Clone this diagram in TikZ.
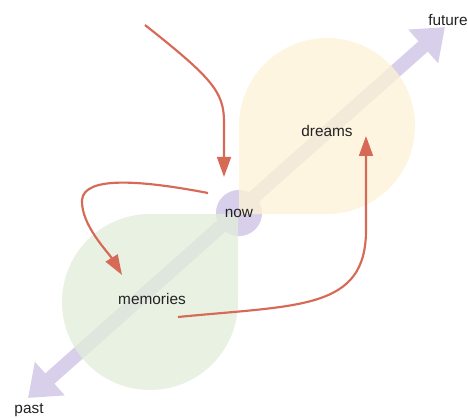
\documentclass[tikz,border=0pt]{standalone}
\usepackage{fontspec}
\setmainfont{Liberation Sans}
\usepackage{xcolor}
\usetikzlibrary{arrows.meta,positioning}

\definecolor{timeline}{RGB}{216,208,234}
\definecolor{dreamfill}{RGB}{253,242,214}
\definecolor{memfill}{RGB}{225,237,218}
\definecolor{flow}{RGB}{214,106,86}
\definecolor{ink}{RGB}{34,34,34}

\begin{document}
\begin{tikzpicture}[
  x=0.65pt, y=-0.65pt,
  label/.style={text=ink, inner sep=1pt},
  nowdot/.style={circle, fill=timeline, minimum size=30pt, inner sep=0pt, text=ink},
  drop/.style={fill opacity=0.78},
  axis/.style={draw=timeline, line width=9pt, {Triangle[length=19pt, width=28pt]}-{Triangle[length=19pt, width=28pt]}},
  flowarrow/.style={draw=flow, line width=1.4pt, -{Triangle[length=13pt, width=9pt]}}
]
\useasboundingbox (0,0) rectangle (468,418);

% time axis
\coordinate (pasttip) at (28,398);
\coordinate (futuretip) at (445,27);
\draw[axis] (pasttip) -- (futuretip);

\node[nowdot] (now) at (239,213) {};

% teardrops
\fill[dreamfill, drop] (239,126) -- (239,214) -- (327,214)
  arc[start angle=90, end angle=-180, radius=88] -- cycle;
\fill[memfill, drop] (238,302) -- (238,214) -- (150,214)
  arc[start angle=-90, end angle=-360, radius=88] -- cycle;

\node[label] (nowtext) at (now) {now};
\node[label] (dreams) at (327,131) {dreams};
\node[label] (memories) at (152,299) {memories};
\node[label] (future) at (448,20) {future};
\node[label] (past) at (29,410) {past};

% flows
\coordinate (arrive) at (145,25);
\coordinate (arriveend) at (224,177);
\coordinate (recall) at (208,193);
\coordinate (recallend) at (122,275);
\coordinate (hope) at (178,317);
\coordinate (hopeend) at (366,136);

\draw[flowarrow] (arrive) .. controls (212,78) and (224,92) .. (224,122) -- (arriveend);
\draw[flowarrow] (recall) .. controls (140,180) and (84,176) .. (82,200)
  .. controls (81,225) and (108,252) .. (recallend);
\draw[flowarrow] (hope) .. controls (300,305) and (366,310) .. (366,230) -- (hopeend);

\end{tikzpicture}
\end{document}
